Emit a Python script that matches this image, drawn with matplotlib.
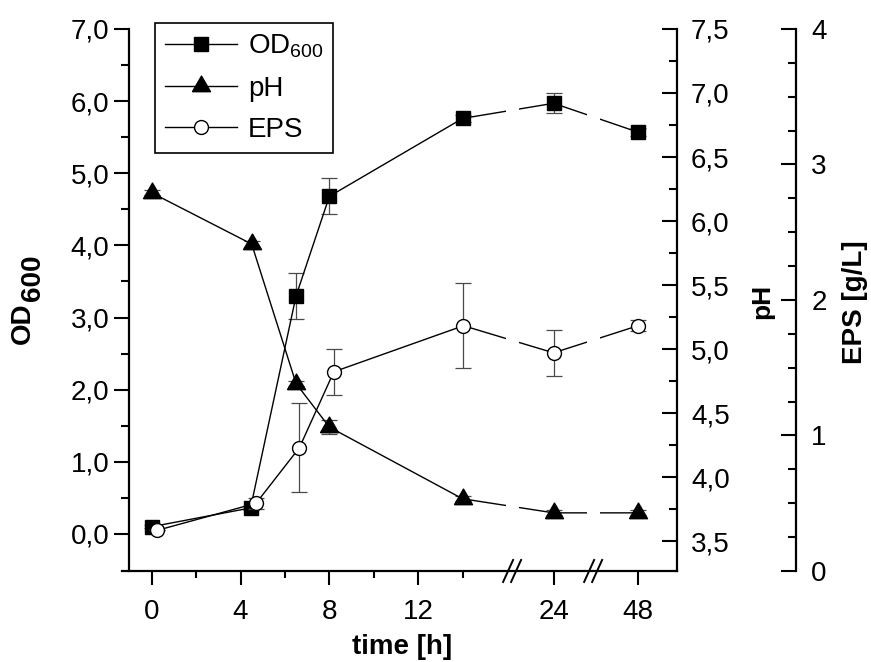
import numpy as np
import matplotlib.pyplot as plt

plt.rcParams['font.family'] = 'Liberation Sans'
plt.rcParams['mathtext.fontset'] = 'custom'
plt.rcParams['mathtext.rm'] = 'Liberation Sans'
plt.rcParams['mathtext.it'] = 'Liberation Sans:italic'
plt.rcParams['mathtext.bf'] = 'Liberation Sans:bold'

# cultivation data, time in h
t_od = [0, 4.45, 6.5, 8, 14, 24, 48]
od = [0.10, 0.36, 3.30, 4.68, 5.76, 5.97, 5.57]
od_err = [0.02, 0.03, 0.32, 0.25, 0.05, 0.14, 0.06]

t_ph = [0, 4.5, 6.5, 8, 14, 24, 48]
ph = [6.22, 5.82, 4.73, 4.39, 3.83, 3.72, 3.72]
ph_err = [0.02, 0.02, 0.02, 0.055, 0.02, 0.02, 0.02]

t_eps = [0.25, 4.7, 6.65, 8.2, 14.1, 24, 48]
eps = [0.30, 0.50, 0.91, 1.47, 1.81, 1.61, 1.81]
eps_err = [0.0, 0.04, 0.33, 0.17, 0.315, 0.17, 0.04]

x_major = [0, 4, 8, 12, 24, 48]
x_minor = [2, 6, 10, 14]
x_labels = ['0', '4', '8', '12', '24', '48']
od_ticks = [0, 1, 2, 3, 4, 5, 6, 7]
ph_ticks = [3.5, 4.0, 4.5, 5.0, 5.5, 6.0, 6.5, 7.0, 7.5]
eps_ticks = [0, 1, 2, 3, 4]

# broken time axis: linear up to 14 h, compressed after
time_knots = [-10, 14, 24, 48, 100]
axis_knots = [-10, 14, 18.1, 21.9, 30.1]
breaks = [16.23, 19.88]


def fwd(t):
    return np.interp(t, time_knots, axis_knots)


def inv(x):
    return np.interp(x, axis_knots, time_knots)


def comma(vals, fmt):
    return [fmt.format(v).replace('.', ',') for v in vals]


fig = plt.figure(figsize=(8.71, 6.62), dpi=100)
ax1 = fig.add_axes([0.1401, 0.1375, 0.6372, 0.8187])
ax1.set_xscale('function', functions=(fwd, inv))
ax2 = ax1.twinx()
ax3 = ax1.twinx()

ecol = '#4a4a4a'
tri = [(-1, -0.577), (1, -0.577), (0, 1.155), (-1, -0.577)]

ax1.errorbar(t_od, od, yerr=od_err, fmt='none', ecolor=ecol, elinewidth=0.9,
             capsize=5.5, capthick=0.9, zorder=1.5)
l1, = ax1.plot(t_od, od, '-', color='k', lw=1.0, marker='s', ms=9.5,
               mfc='k', mec='k', zorder=3)

ax2.errorbar(t_ph, ph, yerr=ph_err, fmt='none', ecolor=ecol, elinewidth=0.9,
             capsize=5.5, capthick=0.9, zorder=1.5)
l2, = ax2.plot(t_ph, ph, '-', color='k', lw=1.0, marker=tri, ms=15,
               mfc='k', mec='k', zorder=3)

ax3.errorbar(t_eps, eps, yerr=eps_err, fmt='none', ecolor=ecol, elinewidth=0.9,
             capsize=5.5, capthick=0.9, zorder=1.5)
l3, = ax3.plot(t_eps, eps, '-', color='k', lw=1.0, marker='o', ms=10,
               mfc='white', mec='k', mew=1.0, zorder=3)

# gaps in the lines at the axis breaks
for b in breaks:
    ax3.axvspan(inv(b - 0.29), inv(b + 0.29), ymin=0.05, ymax=0.97,
                color='white', lw=0, zorder=5)

ax1.set_xlim(inv(-1.34), inv(23.66))
ax1.set_ylim(-0.514, 7.0)
ax2.set_ylim(3.266, 7.5)
ax3.set_ylim(0, 4)

# spines
ax1.spines['top'].set_visible(False)
ax1.spines['right'].set_visible(False)
ax1.spines['left'].set_position(('outward', -5))
for s in ['left', 'top', 'bottom']:
    ax2.spines[s].set_visible(False)
    ax3.spines[s].set_visible(False)
ax3.spines['right'].set_position(('axes', 1.2144))
for ax in (ax1, ax2, ax3):
    for s in ax.spines.values():
        s.set_linewidth(1.6)

# ticks
ax1.set_xticks(x_major)
ax1.set_xticklabels(x_labels)
ax1.set_xticks(x_minor, minor=True)
ax1.tick_params(axis='x', which='major', direction='out', length=10, width=1.5,
                labelsize=20, pad=10)
ax1.tick_params(axis='x', which='minor', direction='out', length=5, width=1.5)

ax1.set_yticks(od_ticks)
ax1.set_yticklabels(comma(od_ticks, '{:.1f}'))
ax1.set_yticks(np.arange(0.5, 7, 1), minor=True)
ax1.tick_params(axis='y', which='major', direction='out', length=11, width=1.5,
                labelsize=20, pad=3)
ax1.tick_params(axis='y', which='minor', direction='out', length=5.5, width=1.5)

ax2.set_yticks(ph_ticks)
ax2.set_yticklabels(comma(ph_ticks, '{:.1f}'))
ax2.set_yticks(np.arange(3.75, 7.5, 0.5), minor=True)
ax2.tick_params(axis='y', which='major', direction='in', length=11, width=1.5,
                labelsize=20, pad=10)
ax2.tick_params(axis='y', which='minor', direction='in', length=5.5, width=1.5)

ax3.set_yticks(eps_ticks)
ax3.set_yticklabels([str(v) for v in eps_ticks])
ax3.set_yticks(np.arange(0.25, 4, 0.25), minor=True)
ax3.tick_params(axis='y', which='major', direction='in', length=11, width=1.5,
                labelsize=20, pad=11)
ax3.tick_params(axis='y', which='minor', direction='in', length=5.5, width=1.5)

# break marks on the time axis
xt = ax1.get_xaxis_transform()
for b in breaks:
    for dx in (-0.18, 0.18):
        ax1.plot([inv(b + dx - 0.225), inv(b + dx + 0.225)], [-0.0203, 0.0203],
                 color='k', lw=1.4, transform=xt, clip_on=False, zorder=6)

# axis titles
ax1.set_xlabel('time [h]', fontsize=20, fontweight='bold')
ax1.xaxis.set_label_coords(0.505, -0.140)
ax1.xaxis.label.set_va('center')

fig.text(23 / 871, 1 - 323 / 662, 'OD', rotation=90, fontsize=20,
         fontweight='bold', ha='center', va='center')
fig.text(33 / 871, 1 - 278 / 662, '600', rotation=90, fontsize=20,
         fontweight='bold', ha='center', va='center')

ax2.set_ylabel('pH', fontsize=19, fontweight='bold', rotation=90)
ax2.yaxis.set_label_coords(1.153, 0.498)
ax2.yaxis.label.set_va('center')
ax2.yaxis.label.set_ha('center')

ax3.set_ylabel('EPS [g/L]', fontsize=20, fontweight='bold', rotation=90)
ax3.yaxis.set_label_coords(1.3207, 0.496)
ax3.yaxis.label.set_va('center')
ax3.yaxis.label.set_ha('center')

leg = ax3.legend([l1, l2, l3], ['OD$_{600}$', 'pH', 'EPS'], loc='upper left',
                 bbox_to_anchor=(155 / 871, 1 - 23 / 662),
                 bbox_transform=fig.transFigure, borderaxespad=0, fontsize=20,
                 frameon=True, fancybox=False, edgecolor='k', framealpha=1,
                 handlelength=2.6, handletextpad=0.4, borderpad=0.35,
                 labelspacing=0.55)
leg.get_frame().set_linewidth(1.2)

fig.savefig('out.png', dpi=100)
